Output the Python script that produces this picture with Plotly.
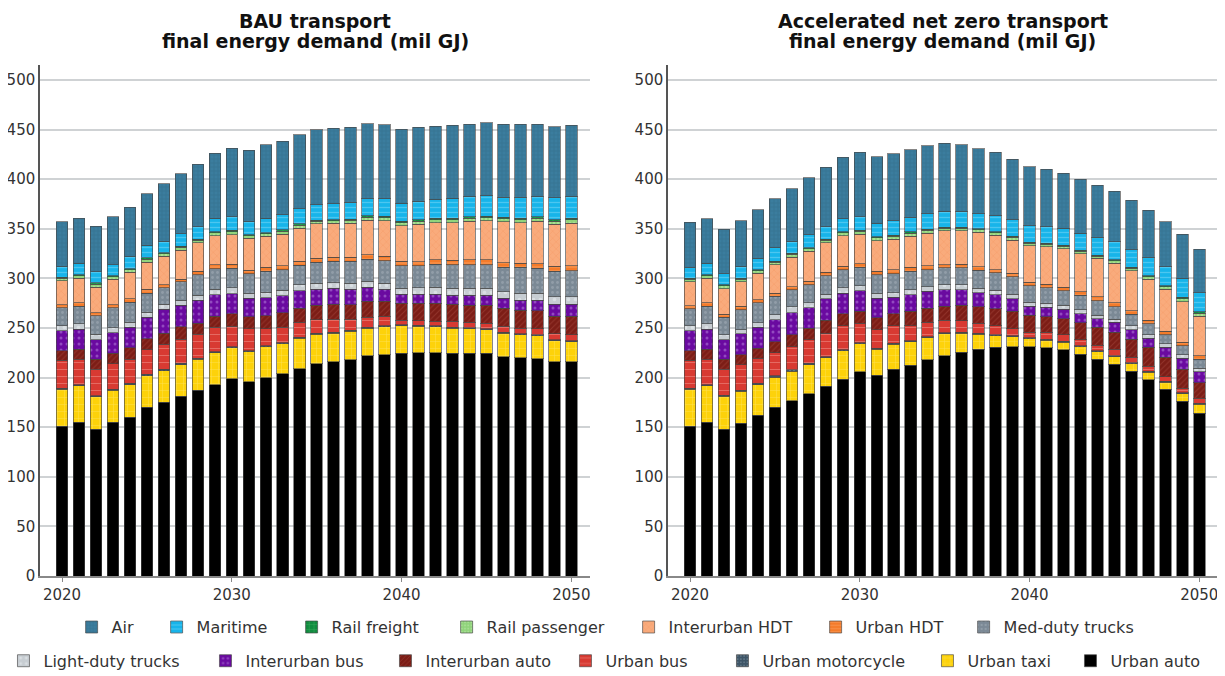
import plotly.graph_objects as go
from plotly.subplots import make_subplots

years = list(range(2020, 2051))

series_names = ["Urban auto", "Urban taxi", "Urban motorcycle", "Urban bus", "Interurban auto",
                "Interurban bus", "Light-duty trucks", "Med-duty trucks", "Urban HDT", "Interurban HDT",
                "Rail passenger", "Rail freight", "Maritime", "Air"]

# ---------------- BAU (mil GJ) ----------------
bau_urban_auto = [151,155,148,155,160,170,175,181,187,193,199,196,200,204,209,214,216,218,222,223,224.5,225,225,224.5,224.5,224.5,221,220,219,216,216]
bau_urban_taxi = [37,36.5,32.5,32,33,32,32,32,31.5,32,31,30,31,30,30.5,29.5,28.5,28.5,27.5,28,27.5,26.5,26,25,24.5,23.5,23.5,23,23,21,20]
bau_urban_moto = [1.2,1.2,1.2,1.2,1.2,1.2,1.2,1.2,1.2,1.2,1.1,1.1,1.1,1.1,1.1,1.1,1.1,1.1,1.1,1.1,1,1,1,1,1,1,1,1,1,1,1]
bau_urban_bus = [28,26,26.5,25.5,24.5,25,25.5,24.5,24,24.5,20.5,22,17,15.5,15,13.5,13,11,10,9.5,5,5,5,6,5.5,5.5,6,5.5,6,6,6]
bau_inter_auto = [10,10,10,11,11.5,11,11,12.5,11,11,12.5,12,13,14.5,14.5,15,15.5,15,16.5,15.5,17,17.5,18,17.5,17.5,18.5,18.5,18.5,18.5,18,19]
bau_inter_bus = [20,20,20,20.5,20.5,21.5,24,21.5,23,22,20.5,19,18.5,17.5,17.5,16,16,15.5,14,12,9,9,9,9,10,10,10,10,10.5,12,12]
bau_ldt = [5,5.5,5.5,5,5,5,5,5,5.5,5.5,6,5,5.5,5.5,6,6,5.5,6,6,6,6,6.5,7,7,7,7,6.5,7,7,7.5,7.5]
bau_mdt = [18,17.5,18.5,20,20,19.5,17,19,20.5,20.5,19.5,19.5,21,20.5,19.5,21,21.5,22,22,22.5,22.5,22,23,23.5,23.5,23.5,24.5,26,25,25.5,26]
bau_urban_hdt = [3,3.5,3,3,3.5,4,3,2.5,3.5,4,4,3.5,4,4,4,4,4,4,4.5,4.5,4.5,4,4.5,4.5,5,5,4.5,4,4.5,5,5]
bau_inter_hdt = [24.5,25,26,26,27,27,28.5,29,28.5,29,30,32.5,31.5,32,33.5,35,34.5,34.5,35,36,36,38,37.5,38,39,39.5,41.5,41,43,42.5,43]
bau_rail_pass = [2.5,2.5,3,2.5,2.5,3,2.5,3,2.5,3,3,2.5,2.5,3,3,2.5,2.5,3,3,3,3,3,3,3,3,3,3,3,3,3,3.5]
bau_rail_freight = [1,1,1.5,1,1,1.5,1,1,1,1.5,1.5,1,1,1.5,1.5,1,1,1,1.5,1.5,1.5,1.5,1.5,1.5,1.5,1.5,1.5,1.5,1.5,1.5,1.5]
bau_maritime = [11,11.5,11,11,12.5,12.5,11.5,12.5,13,13.5,13.5,13.5,14.5,15,15,15.5,16,17,17,17.5,18,18.5,19,20,20.5,20.5,20,21,20.5,22,22]
bau_air = [45,45.5,46,48.5,49.5,52,58,60.5,63,65.5,69,71.5,74,74,74.5,75.5,76,75.5,75.5,74.5,75,75,74,74,73,74,74,74,73,72,72]

# ---------------- Accelerated net zero (mil GJ) ----------------
nz_urban_auto = [151,155,148,154,162,170,176.5,183.5,191,198.5,206,202.5,208.5,212.5,218,222,225.5,228.5,230.5,231,231,230,228,223.5,218.5,213.5,206.5,198,188,176,164]
nz_urban_taxi = [37,36.5,33,32,31,30.5,30,29.5,29,28.5,28,26,25,23.5,22,22,19,15,11.5,10,8,7.5,7.5,7.5,7.5,7.5,7.5,7.5,7.5,7.5,9]
nz_urban_moto = [1.2,1.2,1.2,1.2,1.2,1.2,1.2,1.2,1.2,1.2,1.1,1.1,1.1,1.1,1.1,1.1,1.1,1,1,1,1,1,1,1,1,1,1,1,1,1,1]
nz_urban_bus = [28,26,26,25.5,25.5,23.5,23.5,24,23.5,24,19.5,18.5,17.5,15,14.5,12.5,11.5,10,9,7,5.5,7,6.5,6,5.5,6.5,5.5,5,4.5,4.5,5]
nz_inter_auto = [10,10,10,10.5,10,11,12,11.5,13,12,12,12,12,14.5,14.5,14.5,16,17,17.5,18,17.5,16,16.5,17,18,17,18,19,19.5,19.5,16]
nz_inter_bus = [20,20,20,21,21,22,22,20.5,21.5,21,21,20,17,17,17,16.5,15.5,14,14,12.5,9,9.5,9.5,9.5,9,10,9.5,9,10,11,11]
nz_ldt = [5,5.5,5,4,4.5,5,6,5,5,5.5,5,5,4.5,5,4.5,5,5,4.5,4.5,4.5,4,4,4,4,3.5,3.5,4,3.5,3.5,3.5,3.5]
nz_mdt = [17,17.5,17.5,20,20,18.5,17.5,18.5,18.5,18,18.5,18.5,19,18.5,17,17,17,18,17.5,17.5,16.5,15.5,14.5,14.5,14.5,12.5,12,11,9,9,9]
nz_urban_hdt = [3,3.5,3,3.5,3,3.5,3,3.5,3.5,3.5,3.5,3.5,4,4,4,3,3.5,3.5,3,3.5,3.5,3.5,3.5,3.5,4,4,3.5,4,3.5,3.5,3.5]
nz_inter_hdt = [24.5,25,26,25,27,28.5,29.5,30,29.5,30.5,30,31,31,31.5,33,34.5,34,35,35,33.5,37,38,39,38.5,38.5,39.5,40,41,42.5,41,40]
nz_rail_pass = [2.5,2.5,3,2.5,2.5,2.5,3,2.5,2.5,3,3,3,3,3,3,2.5,2.5,2.5,2.5,3,2.5,2.5,2.5,2.5,2.5,2.5,2.5,2.5,2.5,3,3]
nz_rail_freight = [1,1,1,1,1,1,1,1,1,1,1,1,1,1.5,1,1,1,1,1,1,1,1,1,1,1,1,1,1,1,1.5,1.5]
nz_maritime = [11,11.5,11,12,11.5,13.5,12,13,13,13.5,13.5,13.5,14.5,14.5,15.5,16,16,15,16,16.5,16.5,16.5,17,17,18,18.5,18,19,19,19,19]
nz_air = [45.5,45,45,46,49,49.5,53,57.5,60,62,65,67,67.5,68,68.5,68.5,67,65.5,64,61,59.5,58,55.5,54.5,52.5,51,49.5,47,45.5,44.5,44]

bau_series = [bau_urban_auto, bau_urban_taxi, bau_urban_moto, bau_urban_bus, bau_inter_auto, bau_inter_bus,
              bau_ldt, bau_mdt, bau_urban_hdt, bau_inter_hdt, bau_rail_pass, bau_rail_freight, bau_maritime, bau_air]
nz_series = [nz_urban_auto, nz_urban_taxi, nz_urban_moto, nz_urban_bus, nz_inter_auto, nz_inter_bus,
             nz_ldt, nz_mdt, nz_urban_hdt, nz_inter_hdt, nz_rail_pass, nz_rail_freight, nz_maritime, nz_air]

# styles: (color, pattern shape, pattern fg color, size, solidity)
styles = {
    "Urban auto": ("#000000", "", "#000000", 6, 0.2),
    "Urban taxi": ("#fdd20a", "+", "#fff1a8", 7, 0.12),
    "Urban motorcycle": ("#3e5567", ".", "#8fa3b2", 4, 0.2),
    "Urban bus": ("#d83a32", "-", "#f19a92", 7, 0.15),
    "Interurban auto": ("#7c1d16", "/", "#a84a3f", 4, 0.25),
    "Interurban bus": ("#6a0aa0", ".", "#b98ae0", 6, 0.2),
    "Light-duty trucks": ("#c7cdd2", ".", "#eef1f3", 7, 0.2),
    "Med-duty trucks": ("#7b8995", ".", "#a7b2bb", 5, 0.25),
    "Urban HDT": ("#f47b2a", "-", "#ffb07a", 4, 0.3),
    "Interurban HDT": ("#f9ab7c", "x", "#f3915c", 5, 0.2),
    "Rail passenger": ("#8fd37a", ".", "#bde8ae", 4, 0.3),
    "Rail freight": ("#118c3f", "+", "#5cc07a", 6, 0.2),
    "Maritime": ("#17b4ea", "-", "#7fd8f6", 5, 0.25),
    "Air": ("#3b7d9e", "+", "#2c6481", 4, 0.3),
}
row1 = {"Air", "Maritime", "Rail freight", "Rail passenger", "Interurban HDT", "Urban HDT", "Med-duty trucks"}
# legend text-slot widths (px)
legend_w = {
    "Air": 40, "Maritime": 90, "Rail freight": 110, "Rail passenger": 137, "Interurban HDT": 142,
    "Urban HDT": 103, "Med-duty trucks": 133,
    "Light-duty trucks": 157, "Interurban bus": 135, "Interurban auto": 135, "Urban bus": 112,
    "Urban motorcycle": 160, "Urban taxi": 98, "Urban auto": 88,
}

fig = make_subplots(rows=1, cols=2, horizontal_spacing=0.0662)

for col, data in ((1, bau_series), (2, nz_series)):
    for name, vals in zip(series_names, data):
        color, shape, fg, size, sol = styles[name]
        pattern = dict(shape=shape, fillmode="overlay", fgcolor=fg, size=size, solidity=sol) if shape else dict(shape="")
        fig.add_trace(go.Bar(
            x=years, y=vals, name=name,
            marker=dict(color=color, pattern=pattern, line=dict(color="rgba(70,70,70,0.65)", width=1)),
            showlegend=(col == 1),
            legend="legend" if name in row1 else "legend2",
            legendgroup=name,
            legendwidth=legend_w[name],
        ), row=1, col=col)

FONT = "DejaVu Sans, Open Sans, sans-serif"
fig.update_layout(
    barmode="stack", bargap=0.32,
    width=1217, height=668,
    margin=dict(l=32, r=7, t=57, b=100, autoexpand=False),
    paper_bgcolor="white", plot_bgcolor="white",
    font=dict(family=FONT, size=15, color="#333333"),
    legend=dict(orientation="h", x=0.481, xanchor="center", y=-0.1, yanchor="middle",
                traceorder="reversed", font=dict(family=FONT, size=16, color="#333333"),
                bgcolor="rgba(0,0,0,0)"),
    legend2=dict(orientation="h", x=-0.031, xanchor="left", y=-0.166, yanchor="middle",
                 traceorder="reversed", font=dict(family=FONT, size=16, color="#333333"),
                 bgcolor="rgba(0,0,0,0)"),
)

for c in (1, 2):
    fig.update_yaxes(range=[0, 515], dtick=50, showgrid=True, gridcolor="#cfd2d4", gridwidth=1.5,
                     showline=True, linecolor="#555555", linewidth=1.5, zeroline=False,
                     ticks="", tickfont=dict(family=FONT, size=15, color="#333333"), row=1, col=c)
    fig.update_xaxes(range=[2018.7, 2051.1], tickvals=[2020, 2030, 2040, 2050], showgrid=False,
                     showline=True, linecolor="#888888", linewidth=1.5, ticks="outside", ticklen=4,
                     tickcolor="#888888", tickfont=dict(family=FONT, size=15, color="#333333"), row=1, col=c)

dom1 = fig.layout.xaxis.domain
dom2 = fig.layout.xaxis2.domain
titles = [("BAU transport", "final energy demand (mil GJ)", (dom1[0] + dom1[1]) / 2),
          ("Accelerated net zero transport", "final energy demand (mil GJ)", (dom2[0] + dom2[1]) / 2)]
for l1, l2, xc in titles:
    fig.add_annotation(text="<b>" + l1 + "</b>", xref="paper", yref="paper", x=xc, y=1.1115,
                       xanchor="center", yanchor="top", showarrow=False,
                       font=dict(family=FONT, size=19, color="#111111"))
    fig.add_annotation(text="<b>" + l2 + "</b>", xref="paper", yref="paper", x=xc, y=1.047,
                       xanchor="center", yanchor="middle", showarrow=False,
                       font=dict(family=FONT, size=19, color="#111111"))

fig.write_html("out.html")
